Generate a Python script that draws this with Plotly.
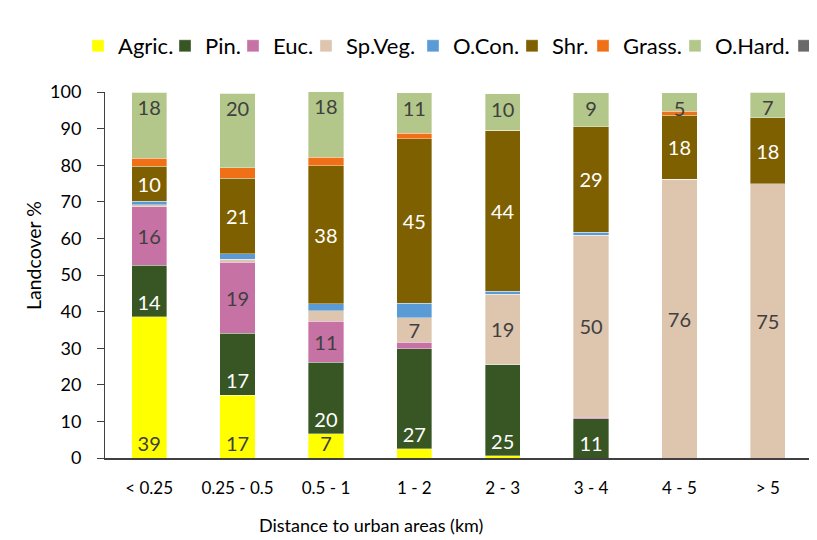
import plotly.graph_objects as go

categories = ["< 0.25", "0.25 - 0.5", "0.5 - 1", "1 - 2", "2 - 3", "3 - 4", "4 - 5", "> 5"]

agric = [38.6, 17.1, 6.6, 2.5, 0.6, 0, 0, 0]
pin = [14.1, 17.0, 19.6, 27.4, 25.0, 10.7, 0, 0]
euc = [15.9, 19.4, 11.2, 1.7, 0, 0.5, 0, 0]
spveg = [0.6, 0.8, 2.8, 6.7, 19.1, 49.6, 76.1, 75.0]
ocon = [0.9, 1.5, 2.0, 4.0, 0.9, 0.9, 0, 0]
shr = [9.6, 20.7, 37.6, 44.9, 44.0, 28.8, 17.6, 18.0]
grass = [2.2, 2.8, 2.4, 1.5, 0, 0, 1.1, 0]
ohard = [18.1, 20.4, 18.0, 11.1, 9.9, 9.3, 5.0, 7.0]
other = [0, 0, 0, 0, 0, 0, 0, 0]

FONT = "Lato"
DARK = "#404040"

# the html body adds an 8px margin, so the figure is drawn 8px smaller
W, H, OFF = 809, 532, 8

# legend square centres in the reference (px from left)
legend_pos = [98, 185, 253, 326, 433, 532, 603, 695, 804]

fig = go.Figure()
legends = {}

def add_series(vals, name, color, txtcolor, anchor):
    i = len(fig.data)
    key = "legend" if i == 0 else f"legend{i + 1}"
    labels = [f"{round(v)}" if v >= 5 else "" for v in vals]
    fig.add_trace(go.Bar(
        x=categories,
        y=vals,
        name=name,
        legend=key,
        showlegend=True,
        marker=dict(color=color, line=dict(width=0.6, color="rgba(255,255,255,0.6)")),
        text=labels,
        textposition="inside",
        insidetextanchor=anchor,
        textangle=0,
        textfont=dict(family=FONT, size=20, color=txtcolor),
        hoverinfo="x+y+name",
    ))
    legends[key] = dict(
        orientation="h",
        xref="container",
        x=(legend_pos[i] - OFF - 20) / W,
        xanchor="left",
        yref="container",
        y=1 - (46 - OFF) / H,
        yanchor="middle",
        font=dict(family=FONT, size=22, color="black"),
        bgcolor="rgba(0,0,0,0)",
    )

add_series(agric, "Agric.", "#FFFF00", DARK, "start")
add_series(pin, "Pin.", "#375623", "white", "start")
add_series(euc, "Euc.", "#C772A5", DARK, "middle")
add_series(spveg, "Sp.Veg.", "#DEC5AE", DARK, "middle")
add_series(ocon, "O.Con.", "#5B9BD5", DARK, "middle")
add_series(shr, "Shr.", "#7F6000", "white", "middle")
add_series(grass, "Grass.", "#F07018", DARK, "middle")
add_series(ohard, "O.Hard.", "#B3C78A", DARK, "end")
add_series(other, " ", "#696969", DARK, "middle")

fig.update_layout(
    barmode="stack",
    bargap=0.6,
    plot_bgcolor="white",
    paper_bgcolor="white",
    width=W,
    height=H,
    margin=dict(l=105 - OFF, r=5, t=92 - OFF, b=82, autoexpand=False),
    showlegend=True,
    font=dict(family=FONT, size=18, color="black"),
    uniformtext=dict(mode="show", minsize=20),
    annotations=[
        dict(text="Distance to urban areas (km)", xref="paper", yref="paper",
             x=(371 - 105) / 707, y=(458 - 525) / 366, showarrow=False,
             font=dict(family=FONT, size=18, color="black"), xanchor="center", yanchor="middle"),
        dict(text="Landcover %", xref="paper", yref="paper",
             x=(33 - 105) / 707, y=(458 - 256) / 366, showarrow=False, textangle=-90,
             font=dict(family=FONT, size=19.5, color="black"), xanchor="center", yanchor="middle"),
    ],
    **legends,
)
fig.update_xaxes(
    showline=True,
    linecolor=DARK,
    linewidth=1.5,
    ticks="",
    ticklabelstandoff=14,
    tickfont=dict(family=FONT, size=17, color="black"),
)
fig.update_yaxes(
    range=[0, 100],
    dtick=10,
    showgrid=False,
    showline=True,
    linecolor=DARK,
    linewidth=1,
    ticks="outside",
    ticklen=7,
    tickcolor=DARK,
    ticklabelstandoff=12,
    tickfont=dict(family=FONT, size=18, color="black"),
)

fig.write_html("out.html")
